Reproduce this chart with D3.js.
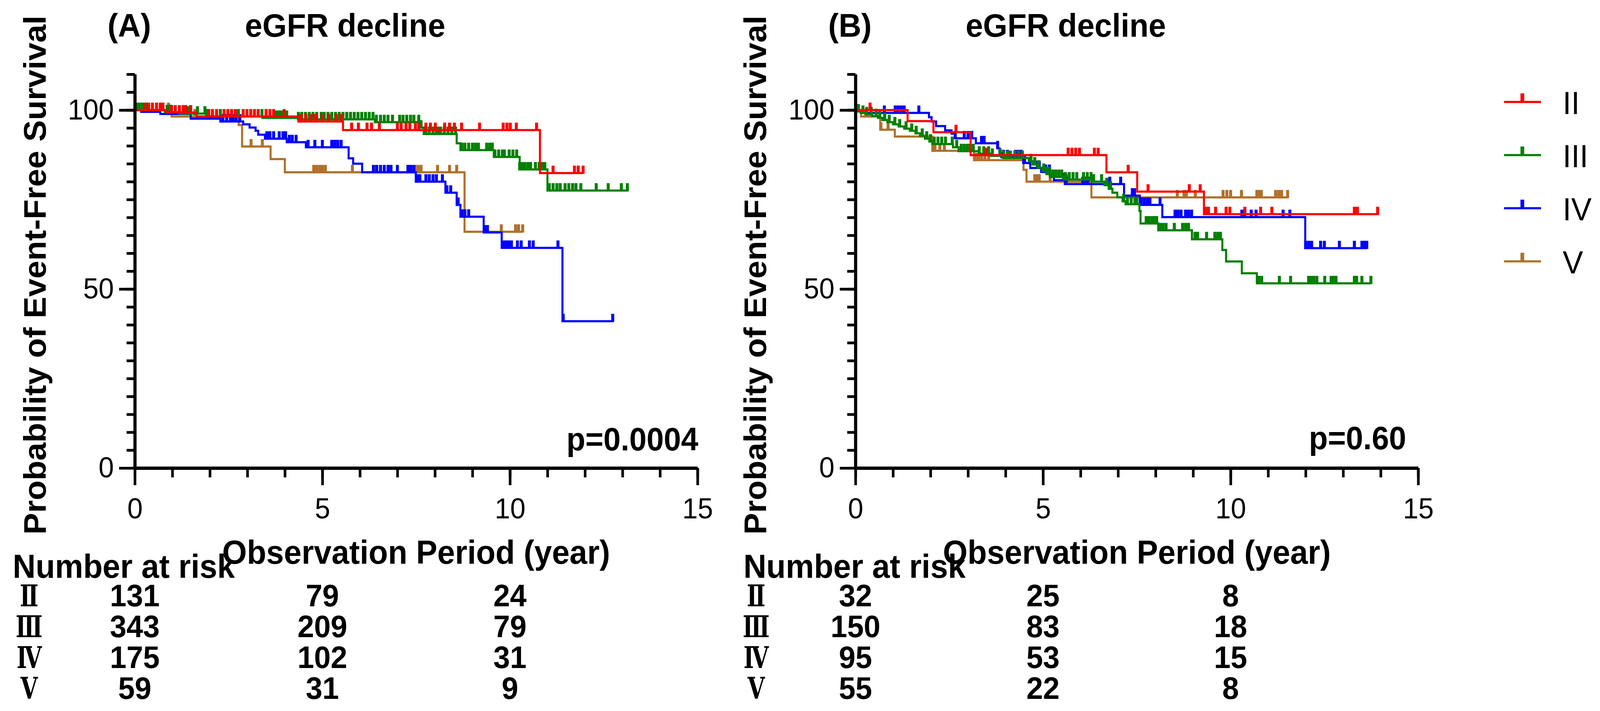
<!DOCTYPE html>
<html>
<head>
<meta charset="utf-8">
<script src="https://cdn.jsdelivr.net/npm/d3@7"></script>
<style>
  html, body { margin: 0; padding: 0; background: #fff; overflow: hidden; }
  #chart { width: 100vw; height: 100vh; }
  svg { display: block; }
</style>
</head>
<body>
<div id="chart"></div>
<script>
// ---- data: [time (year), survival %] steps, censor times ----
const groups = ['II', 'III', 'IV', 'V']
const legendLabels = ['II', 'III', 'IV', 'V']
const riskRowLabels = ['Ⅱ', 'Ⅲ', 'Ⅳ', 'Ⅴ']
const riskTimes = [0, 5, 10]
const xTicks = [0, 5, 10, 15]
const yTicks = [0, 50, 100]
const panelTags = ['(A)', '(B)']
const panelTitle = 'eGFR decline'
const pValues = ['p=0.0004', 'p=0.60']

// Panel A
const A_II_steps = [[0,100],[0.83,99.3],[1.65,98.2],[4.36,96.8],[5.55,94.4],[10.8,82.4],[11.95,82.4]]
const A_II_cens = [0.27,0.37,0.47,0.58,0.68,0.75,0.98,1.08,1.19,1.29,1.36,1.49,1.97,2.07,2.18,2.38,2.48,2.58,2.68,2.89,2.99,3.09,3.19,3.29,3.5,3.6,3.7,3.98,4.43,4.56,4.69,4.82,5.0,5.17,5.37,5.5,5.78,5.96,6.19,6.31,6.52,7.0,7.1,7.23,7.33,7.48,7.57,7.76,7.88,8.01,8.26,8.39,8.52,8.71,9.19,9.82,9.92,10.01,10.17,10.71,11.15,11.72,11.82,11.95]
const A_III_steps = [[0,100],[0.8,99.4],[1.2,99.0],[1.9,98.2],[3.4,97.8],[4.36,97.4],[6.4,96.6],[7.62,95.1],[7.7,93.3],[8.58,90.7],[8.68,88.8],[9.57,86.9],[10.26,83.4],[11.0,77.5],[13.15,77.5]]
const A_III_cens = [0.05,0.12,0.2,0.3,0.86,0.92,0.96,1.36,1.42,1.46,1.67,1.87,1.93,1.97,2.28,2.76,3.39,3.75,3.82,3.88,3.95,4.05,4.36,4.45,4.55,4.65,4.75,4.85,4.97,5.05,5.15,5.25,5.35,5.45,5.55,5.65,5.75,5.85,5.95,6.05,6.15,6.25,6.35,6.44,6.55,6.65,6.75,6.87,7.06,7.15,7.25,7.35,7.44,7.57,7.63,7.76,7.85,7.95,8.04,8.07,8.15,8.25,8.35,8.45,8.55,8.72,8.8,8.9,9.0,9.08,9.16,9.38,9.46,9.53,9.6,9.7,9.8,9.85,9.98,10.08,10.18,10.26,10.32,10.4,10.48,10.55,10.68,10.78,10.86,10.93,11.05,11.15,11.25,11.34,11.47,11.57,11.67,11.76,11.89,12.3,12.62,12.97,13.13]
const A_IV_steps = [[0,100],[0.17,99.5],[0.68,98.9],[1.49,97.6],[2.28,96.8],[2.89,96.0],[3.06,95.1],[3.22,94.2],[3.29,93.1],[3.47,92.0],[4.05,91.0],[4.56,89.6],[5.7,86.5],[5.82,85.0],[6.06,82.6],[7.49,80.0],[8.28,76.9],[8.58,73.5],[8.68,70.2],[9.3,65.8],[9.78,61.5],[11.4,41.0],[12.74,41.0]]
const A_IV_cens = [2.35,2.45,2.55,2.62,2.7,2.8,3.52,3.6,3.7,3.85,3.95,4.02,4.12,4.2,4.3,4.62,4.8,5.0,5.25,5.33,5.41,5.5,6.36,6.45,6.55,6.65,6.75,6.83,7.0,7.28,7.36,7.44,7.53,7.6,7.76,7.85,7.95,8.04,8.2,8.32,8.42,8.62,8.72,8.8,8.9,9.34,9.4,9.82,9.9,9.97,10.04,10.2,10.3,10.52,10.62,11.28,11.42,12.74]
const A_V_steps = [[0,100],[0.98,98.2],[2.77,95.8],[2.86,89.8],[3.62,86.3],[4.0,82.6],[8.79,66.0],[10.34,66.0]]
const A_V_cens = [0.9,1.6,3.1,3.4,4.77,4.85,4.93,5.0,5.08,5.8,6.4,7.47,7.55,7.63,8.07,8.39,8.58,9.77,10.15,10.23,10.34]
const riskA = [[131, 79, 24], [343, 209, 79], [175, 102, 31], [59, 31, 9]]

// Panel B
const B_II_steps = [[0,100],[1.39,96.9],[2.08,93.8],[3.07,87.4],[6.69,82.6],[7.51,77.2],[9.29,70.9],[13.92,70.9]]
const B_II_cens = [0.39,2.68,3.48,5.67,5.77,5.87,5.97,6.37,6.47,7.27,7.8,8.9,9.19,9.33,9.41,9.6,9.88,9.98,10.38,10.8,11.1,13.3,13.38,13.92]
const B_III_steps = [[0,100],[0.05,99.6],[0.15,99.2],[0.3,98.8],[0.45,98.3],[0.6,97.8],[0.72,97.2],[0.85,96.6],[1.0,96.0],[1.15,95.4],[1.3,94.8],[1.45,94.2],[1.6,93.5],[1.72,92.8],[1.85,92.0],[1.97,91.2],[2.05,90.5],[2.6,89.6],[2.75,88.5],[3.3,87.8],[3.6,87.2],[3.95,86.6],[4.62,85.7],[4.72,84.8],[4.85,83.9],[4.98,83.0],[5.1,82.1],[5.2,81.3],[5.55,80.6],[6.3,80.0],[6.64,79.0],[6.75,78.0],[6.85,76.9],[6.98,75.6],[7.12,74.5],[7.2,73.7],[7.57,71.8],[7.6,68.3],[8.07,66.4],[8.97,63.9],[9.78,60.9],[9.88,57.7],[10.3,54.4],[10.7,51.6],[13.74,51.6]]
const B_III_cens = [0.08,0.2,0.3,0.42,0.55,0.65,0.78,0.9,1.05,1.18,1.35,1.5,1.62,1.78,1.9,2.0,2.1,2.2,2.3,2.4,2.58,2.7,2.82,2.9,2.98,3.06,3.14,3.3,3.42,3.55,3.65,3.86,3.95,4.05,4.13,4.25,4.35,4.45,4.68,4.78,4.88,5.02,5.1,5.18,5.26,5.34,5.42,5.5,5.6,5.7,5.8,5.9,6.08,6.18,6.28,6.35,6.56,6.7,6.8,7.15,7.25,7.35,7.45,7.5,7.75,7.82,7.9,7.97,8.03,8.13,8.2,8.28,8.5,8.72,8.8,8.88,9.05,9.12,9.36,9.58,9.66,9.73,10.75,10.83,11.3,11.6,12.08,12.15,12.22,12.3,12.51,12.68,12.75,12.81,13.3,13.36,13.5,13.74]
const B_IV_steps = [[0,100],[0.14,99.2],[1.96,98.0],[2.03,96.8],[2.15,95.5],[2.39,94.3],[2.56,93.4],[2.66,92.1],[3.21,90.7],[3.79,89.3],[3.84,88.0],[3.89,86.8],[4.47,85.2],[4.66,83.8],[4.95,82.7],[5.19,81.6],[5.29,80.4],[5.58,79.3],[7.16,76.1],[7.58,73.5],[8.18,70.1],[11.99,61.4],[13.63,61.4]]
const B_IV_cens = [0.77,1.06,1.14,1.22,1.3,1.69,2.66,2.9,3.0,3.1,3.36,3.43,3.79,3.95,4.05,4.27,4.35,4.42,4.51,4.85,4.9,5.07,5.17,5.55,5.62,6.06,6.14,6.2,6.78,7.07,7.38,7.44,7.62,7.7,7.78,7.85,8.12,8.52,8.6,8.68,8.8,8.88,8.96,10.3,10.38,10.55,10.68,11.4,11.58,12.0,12.08,12.16,12.4,12.5,12.9,13.3,13.5,13.57,13.63]
const B_V_steps = [[0,100],[0.15,98.2],[0.66,94.5],[1.05,92.6],[2.05,88.6],[3.16,86.0],[4.48,83.3],[4.56,80.0],[6.29,75.6],[11.52,75.6]]
const B_V_cens = [0.27,0.68,0.87,2.08,2.12,2.25,2.37,3.2,3.28,3.36,3.45,3.55,4.78,4.85,4.9,5.19,5.67,8.58,8.76,8.82,9.06,9.8,9.9,10.0,10.29,10.7,10.76,10.82,11.2,11.28,11.36,11.52]
const riskB = [[32, 25, 8], [150, 83, 18], [95, 53, 15], [55, 22, 8]]

// ---- style ----
const colors = { II: '#FF0000', III: '#008000', IV: '#0000FF', V: '#B0702A' }
const drawOrder = ['V', 'IV', 'III', 'II']
const FONT = '"Liberation Sans", Arial, sans-serif'
const W = 4285, H = 1820
const plotTop = 190, plotBottom = 1198, plotW = 1507

const panels = [
  { x0: 361, tag: panelTags[0], p: pValues[0], pX: 1870, pY: 1153, tableX: 34, rowX: 78,
    steps: { II: A_II_steps, III: A_III_steps, IV: A_IV_steps, V: A_V_steps },
    cens: { II: A_II_cens, III: A_III_cens, IV: A_IV_cens, V: A_V_cens }, risk: riskA },
  { x0: 2291, tag: panelTags[1], p: pValues[1], pX: 3766, pY: 1150, tableX: 1991, rowX: 2025,
    steps: { II: B_II_steps, III: B_III_steps, IV: B_IV_steps, V: B_V_steps },
    cens: { II: B_II_cens, III: B_III_cens, IV: B_IV_cens, V: B_V_cens }, risk: riskB },
]

// the drawing is laid out on a fixed 4285x1820 grid and stretched to the window
const svg = d3.select('#chart').append('svg')
  .attr('width', '100%').attr('height', '100%')
  .attr('viewBox', `0 0 ${W} ${H}`)
  .attr('preserveAspectRatio', 'none')
  .style('background', '#fff')

function survAt(steps, t) {
  let s = steps[0][1]
  for (const d of steps) if (d[0] <= t) s = d[1]
  return s
}

function styleAxis(g) {
  g.select('.domain').attr('stroke', '#000').attr('stroke-width', 8)
  g.selectAll('.tick line').attr('stroke', '#000').attr('stroke-width', 7)
  g.selectAll('.tick text')
    .attr('fill', '#000').attr('font-size', '74px')
    .attr('font-family', FONT)
}

function drawPanel(p) {
  const x = d3.scaleLinear().domain([0, 15]).range([p.x0, p.x0 + plotW])
  const y = d3.scaleLinear().domain([0, 110]).range([plotBottom, plotTop])
  const g = svg.append('g')

  // curves with censor ticks
  const line = d3.line().x(d => x(d[0])).y(d => y(d[1])).curve(d3.curveStepAfter)
  drawOrder.forEach(k => {
    const c = colors[k]
    g.append('path').datum(p.steps[k])
      .attr('d', line)
      .attr('fill', 'none').attr('stroke', c).attr('stroke-width', 5.5)
    g.append('g').selectAll('line').data(p.cens[k]).join('line')
      .attr('x1', d => x(d)).attr('x2', d => x(d))
      .attr('y1', d => y(survAt(p.steps[k], d)) + 2)
      .attr('y2', d => y(survAt(p.steps[k], d)) - 19)
      .attr('stroke', c).attr('stroke-width', 8)
  })

  // axes: minor ticks then major ticks with labels
  g.append('g').attr('transform', `translate(${p.x0},0)`)
    .call(d3.axisLeft(y).tickValues(d3.range(0, 111, 5)).tickSize(22).tickSizeOuter(0).tickFormat(''))
    .call(styleAxis)
  g.append('g').attr('transform', `translate(${p.x0},0)`)
    .call(d3.axisLeft(y).tickValues(yTicks).tickSize(42).tickPadding(14).tickSizeOuter(0))
    .call(styleAxis)
  g.append('g').attr('transform', `translate(0,${plotBottom})`)
    .call(d3.axisBottom(x).tickValues(d3.range(0, 16, 1)).tickSize(24).tickSizeOuter(0).tickFormat(''))
    .call(styleAxis)
  g.append('g').attr('transform', `translate(0,${plotBottom})`)
    .call(d3.axisBottom(x).tickValues(xTicks).tickSize(44).tickPadding(32).tickSizeOuter(0))
    .call(styleAxis)

  // texts
  g.append('text')
    .attr('transform', `translate(${p.x0 - 239},704) rotate(-90)`)
    .attr('text-anchor', 'middle')
    .attr('font-family', FONT).attr('font-weight', 'bold').attr('font-size', '83px')
    .text('Probability of Event-Free Survival')
  g.append('text').attr('x', p.x0 - 73).attr('y', 94)
    .attr('font-family', FONT).attr('font-weight', 'bold').attr('font-size', '84px')
    .text(p.tag)
  g.append('text').attr('x', p.x0 + 295).attr('y', 94)
    .attr('font-family', FONT).attr('font-weight', 'bold').attr('font-size', '84px')
    .text(panelTitle)
  g.append('text').attr('x', p.pX).attr('y', p.pY).attr('text-anchor', 'end')
    .attr('font-family', FONT).attr('font-weight', 'bold').attr('font-size', '83px')
    .text(p.p)
  g.append('text').attr('x', x(7.5)).attr('y', 1443).attr('text-anchor', 'middle')
    .attr('font-family', FONT).attr('font-weight', 'bold').attr('font-size', '85px')
    .text('Observation Period (year)')

  // number at risk table
  g.append('text').attr('x', p.tableX).attr('y', 1479)
    .attr('font-family', FONT).attr('font-weight', 'bold').attr('font-size', '85px')
    .text('Number at risk')
  const rowY = i => 1552 + i * 79
  riskRowLabels.forEach((lab, i) => {
    g.append('text')
      .attr('transform', `translate(${p.rowX},${rowY(i)}) scale(0.78,1)`)
      .attr('text-anchor', 'middle')
      .attr('font-family', '"DejaVu Serif", "Noto Sans CJK JP", serif')
      .attr('font-weight', 'bold').attr('font-size', '76px')
      .text(lab)
    p.risk[i].forEach((n, j) => {
      g.append('text').attr('x', x(riskTimes[j])).attr('y', rowY(i)).attr('text-anchor', 'middle')
        .attr('font-family', FONT).attr('font-weight', 'bold').attr('font-size', '80px')
        .text(n)
    })
  })
}

panels.forEach(drawPanel)

// legend
const leg = svg.append('g')
groups.forEach((k, i) => {
  const ly = 261 + i * 136
  leg.append('line').attr('x1', 4028).attr('x2', 4127).attr('y1', ly).attr('y2', ly)
    .attr('stroke', colors[k]).attr('stroke-width', 5.5)
  leg.append('line').attr('x1', 4077).attr('x2', 4077).attr('y1', ly).attr('y2', ly - 22)
    .attr('stroke', colors[k]).attr('stroke-width', 10)
  leg.append('text').attr('x', 4185).attr('y', ly + 31)
    .attr('font-family', FONT).attr('font-size', '82px')
    .text(legendLabels[i])
})
</script>
</body>
</html>
